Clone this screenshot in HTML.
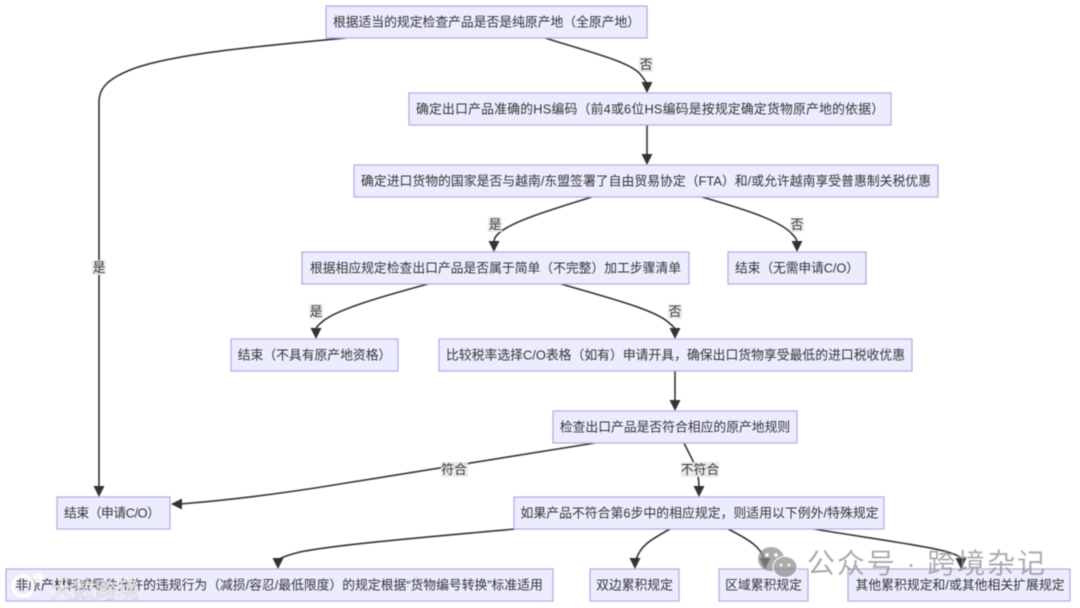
<!DOCTYPE html>
<html lang="zh">
<head>
<meta charset="utf-8">
<style>
html,body{margin:0;padding:0;background:#fff;width:1080px;height:608px;overflow:hidden}
svg{display:block;filter:blur(0.45px)}
text{font-family:"Liberation Sans","Noto Sans CJK SC",sans-serif;fill:#333;font-size:12.8px}
.n{fill:#ececff;stroke:#b9a7e0;stroke-width:1.2}
.e{fill:none;stroke:#333;stroke-width:1.6}
.a{fill:#333}
.l{fill:#e8e8e8;opacity:.9}
.t{text-anchor:middle;dominant-baseline:central}
</style>
</head>
<body>
<svg width="1080" height="608" viewBox="0 0 1080 608" xmlns="http://www.w3.org/2000/svg">
<g>
<path class="e" d="M346 38 C260 46 170 54 130 70 C108 79 99 88 99 102 L99 488"/>
<path class="e" d="M545 38 C590 52 630 62 640 74 C645 80 647 84 647 84"/>
<path class="e" d="M647 125 L647 156"/>
<path class="e" d="M592 197 C550 210 510 222 498 234 C494 238 494 240 494 243"/>
<path class="e" d="M702 197 C740 208 780 220 792 234 C797 239 797 241 797 243"/>
<path class="e" d="M428 284 C380 297 335 310 322 322 C316 327 316 328 316 330"/>
<path class="e" d="M561 284 C610 298 655 310 668 322 C675 328 675 328 675 330"/>
<path class="e" d="M675 371 L675 402"/>
<path class="e" d="M595 443 L340 484 C280 494 230 500 180 504"/>
<path class="e" d="M684 443 C692 460 699 468 699 488"/>
<path class="e" d="M515 529 C440 536 340 544 300 552 C284 556 279 559 278 560"/>
<path class="e" d="M670 529 C650 540 640 546 636 560"/>
<path class="e" d="M728 529 C750 540 762 548 764 560"/>
<path class="e" d="M814 529 C880 540 945 548 958 556 C961 558 961 559 961 560"/>
<polygon class="a" points="93.5,486 104.5,486 99,497"/>
<polygon class="a" points="641.5,82 652.5,82 647,93"/>
<polygon class="a" points="641.5,154 652.5,154 647,165"/>
<polygon class="a" points="488.5,241 499.5,241 494,252"/>
<polygon class="a" points="791.5,241 802.5,241 797,252"/>
<polygon class="a" points="310.5,328 321.5,328 316,339"/>
<polygon class="a" points="669.5,328 680.5,328 675,339"/>
<polygon class="a" points="669.5,400 680.5,400 675,411"/>
<polygon class="a" points="182,498.5 182,509.5 171,504"/>
<polygon class="a" points="693.5,486 704.5,486 699,497"/>
<polygon class="a" points="272.5,558 283.5,558 278,569"/>
<polygon class="a" points="629.5,558 640.5,558 635,569"/>
<polygon class="a" points="759.5,558 770.5,558 765,569"/>
<polygon class="a" points="955.5,558 966.5,558 961,569"/>
</g>
<g>
<rect class="n" x="326" y="6" width="321" height="32"/>
<rect class="n" x="409" y="93" width="482" height="32"/>
<rect class="n" x="354" y="165" width="584" height="32"/>
<rect class="n" x="302" y="252" width="387" height="32"/>
<rect class="n" x="728" y="252" width="138" height="32"/>
<rect class="n" x="231" y="339" width="167" height="32"/>
<rect class="n" x="439" y="339" width="473" height="32"/>
<rect class="n" x="553" y="411" width="244" height="32"/>
<rect class="n" x="57" y="497" width="113" height="32"/>
<rect class="n" x="514" y="497" width="370" height="32"/>
<rect class="n" x="6" y="569" width="547" height="32"/>
<rect class="n" x="590" y="569" width="89" height="32"/>
<rect class="n" x="719" y="569" width="89" height="32"/>
<rect class="n" x="848" y="569" width="222" height="32"/>
</g>
<g>
<rect class="l" x="639" y="57" width="14" height="15"/>
<rect class="l" x="92" y="260" width="14" height="15"/>
<rect class="l" x="488" y="217" width="14" height="15"/>
<rect class="l" x="790" y="217" width="14" height="15"/>
<rect class="l" x="309" y="304" width="14" height="15"/>
<rect class="l" x="668" y="304" width="14" height="15"/>
<rect class="l" x="441" y="462" width="27" height="15"/>
<rect class="l" x="681" y="462" width="38" height="15"/>
</g>
<g class="t">
<text class="t" x="486.5" y="22">根据适当的规定检查产品是否是纯原产地（全原产地）</text>
<text class="t" x="650" y="109" textLength="468">确定出口产品准确的HS编码（前4或6位HS编码是按规定确定货物原产地的依据）</text>
<text class="t" x="646" y="181" textLength="570">确定进口货物的国家是否与越南/东盟签署了自由贸易协定（FTA）和/或允许越南享受普惠制关税优惠</text>
<text class="t" x="495.5" y="268">根据相应规定检查出口产品是否属于简单（不完整）加工步骤清单</text>
<text class="t" x="797" y="268" textLength="124">结束（无需申请C/O）</text>
<text class="t" x="314.5" y="355">结束（不具有原产地资格）</text>
<text class="t" x="675.5" y="355" textLength="459">比较税率选择C/O表格（如有）申请开具，确保出口货物享受最低的进口税收优惠</text>
<text class="t" x="675" y="427">检查出口产品是否符合相应的原产地规则</text>
<text class="t" x="112" y="513" textLength="96">结束（申请C/O）</text>
<text class="t" x="699.5" y="513" textLength="358">如果产品不符合第6步中的相应规定，则适用以下例外/特殊规定</text>
<text class="t" x="279" y="585">非原产材料或零件允许的违规行为（减损/容忍/最低限度）的规定根据“货物编号转换”标准适用</text>
<text class="t" x="634.5" y="585">双边累积规定</text>
<text class="t" x="763.5" y="585">区域累积规定</text>
<text class="t" x="960" y="585" textLength="209">其他累积规定和/或其他相关扩展规定</text>
<text class="t" x="646" y="64.5">否</text>
<text class="t" x="99" y="267.5">是</text>
<text class="t" x="495" y="224.5">是</text>
<text class="t" x="797" y="224.5">否</text>
<text class="t" x="316" y="311.5">是</text>
<text class="t" x="675" y="311.5">否</text>
<text class="t" x="454" y="469.5">符合</text>
<text class="t" x="700" y="469.5">不符合</text>
</g>
<g opacity=".72">
<ellipse cx="771" cy="559" rx="13" ry="12" fill="#8c8c8c"/>
<ellipse cx="785" cy="567" rx="12" ry="10.5" fill="#8c8c8c" stroke="#fff" stroke-width="1"/>
<circle cx="767" cy="555" r="1.8" fill="#fff"/>
<circle cx="776" cy="555" r="1.8" fill="#fff"/>
<circle cx="781" cy="565" r="1.4" fill="#fff"/>
<circle cx="789" cy="565" r="1.4" fill="#fff"/>
<text x="807" y="573" textLength="238" style="font-size:28px;fill:#8c8c8c">公众号 · 跨境杂记</text>
</g>
<g>
<circle cx="23" cy="586" r="10" fill="none" stroke="#fff" stroke-width="3.5" opacity=".95"/>
<circle cx="38" cy="578" r="5" fill="#fff" opacity=".85"/>
<text x="51" y="598" textLength="88" style="font-size:22px;fill:#fff;stroke:#aaa;stroke-width:.4px;opacity:.95">大数跨境</text>
</g>
</svg>
</body>
</html>
